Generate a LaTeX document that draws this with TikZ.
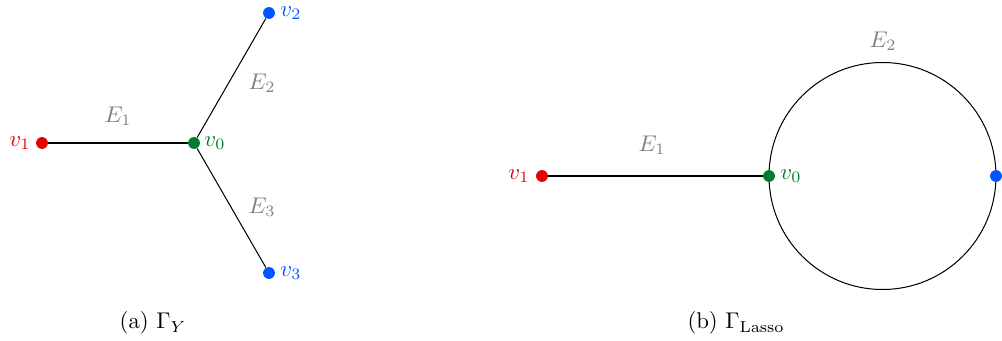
\documentclass[tikz,border=0pt]{standalone}
\begin{document}
\begin{tikzpicture}[x=0.44pt,y=-0.44pt,
  dot/.style={circle,fill=#1,inner sep=0pt,minimum size=5.2pt},
  vlab/.style={text=#1,inner sep=0pt},
  elab/.style={text=gray,inner sep=0pt},
  edge/.style={draw=black,line width=0.45pt}]
\definecolor{vred}{RGB}{230,0,0}
\definecolor{vgreen}{RGB}{0,125,45}
\definecolor{vblue}{RGB}{0,85,255}
\useasboundingbox (0,0) rectangle (1002,341);
% (a) Gamma_Y
\node[dot=vred] (a1) at (42,143) {};
\node[dot=vgreen] (a0) at (194,143) {};
\node[dot=vblue] (a2) at (269,13) {};
\node[dot=vblue] (a3) at (269,273) {};
\draw[edge] (a1) -- (a0);
\draw[edge] (a0) -- (a2);
\draw[edge] (a0) -- (a3);
\node[vlab=vred] (la1) at (20,143) {$v_1$};
\node[vlab=vgreen] (la0) at (215,143) {$v_0$};
\node[vlab=vblue] (la2) at (291,13) {$v_2$};
\node[vlab=vblue] (la3) at (291,273) {$v_3$};
\node[elab] (ea1) at (118,116) {$E_1$};
\node[elab] (ea2) at (262,83) {$E_2$};
\node[elab] (ea3) at (262,207) {$E_3$};
\node (capa) at (153,323) {(a) $\Gamma_Y$};
% (b) Gamma_Lasso
\coordinate (cc) at (882.5,176);
\draw[edge] (cc) circle [radius=113.5*0.44pt];
\node[dot=vred] (b1) at (542,176) {};
\node[dot=vgreen] (b0) at (769,176) {};
\node[dot=vblue] (b2) at (996,176) {};
\draw[edge] (b1) -- (b0);
\node[vlab=vred] (lb1) at (519,176) {$v_1$};
\node[vlab=vgreen] (lb0) at (791,176) {$v_0$};
\node[elab] (eb1) at (652,145) {$E_1$};
\node[elab] (eb2) at (883,41) {$E_2$};
\node (capb) at (736,323) {(b) $\Gamma_{\mathrm{Lasso}}$};
\end{tikzpicture}
\end{document}
